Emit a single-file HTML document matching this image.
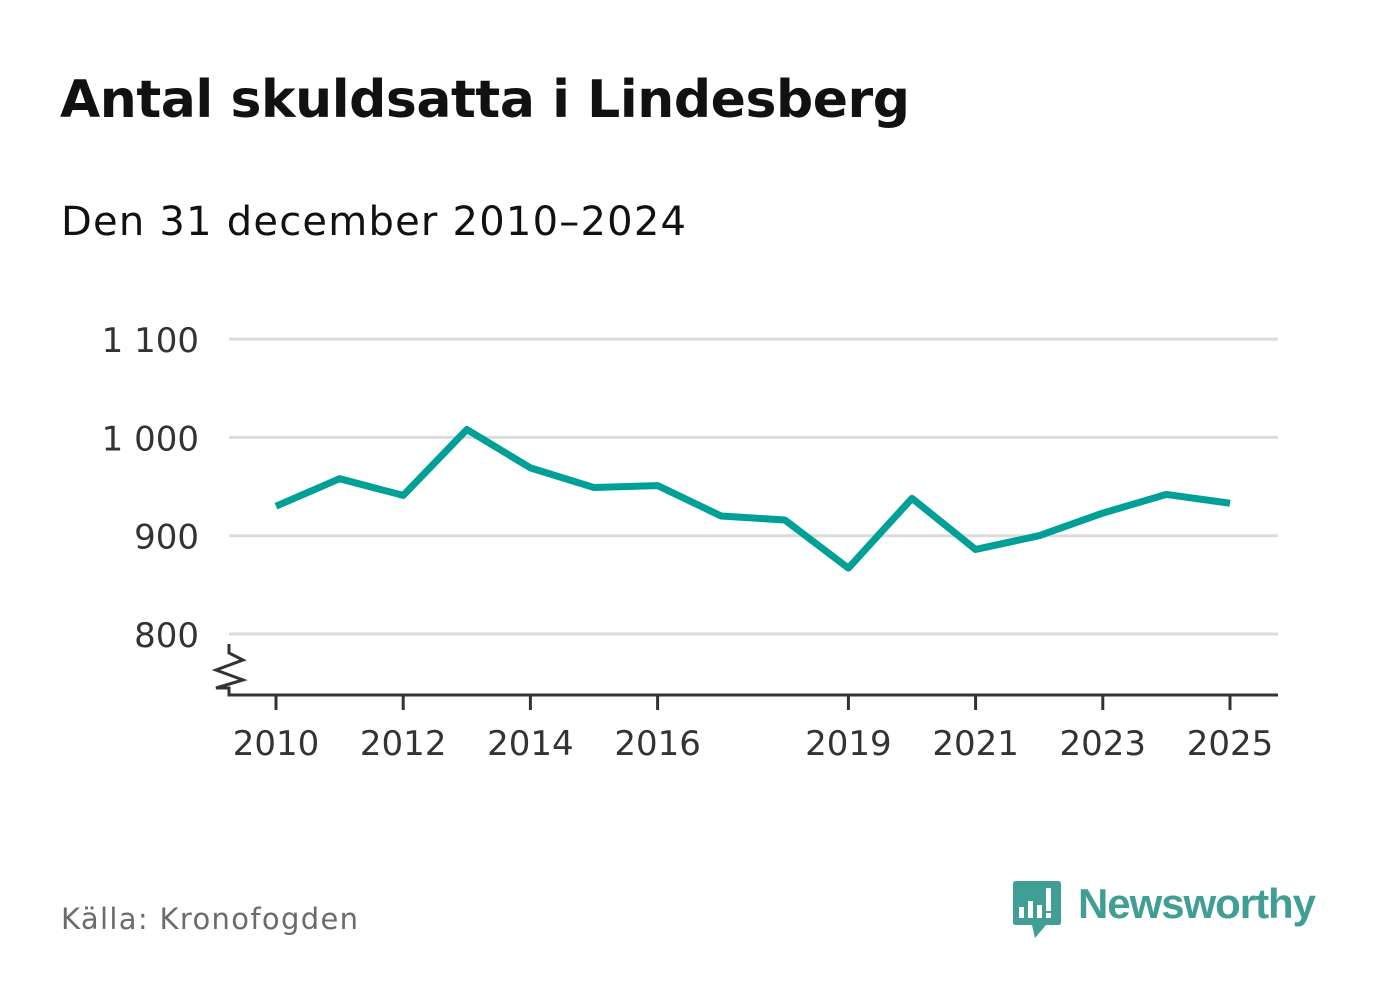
<!DOCTYPE html>
<html><head><meta charset="utf-8"><style>
body{margin:0;background:#fff;width:1382px;height:999px;overflow:hidden;font-family:"DejaVu Sans","Liberation Sans",sans-serif}
</style></head><body>
<svg width="1382" height="999" xmlns="http://www.w3.org/2000/svg">
<text x="60" y="117" font-size="52" font-weight="bold" fill="#111" font-family="DejaVu Sans, Liberation Sans, sans-serif" textLength="850">Antal skuldsatta i Lindesberg</text>
<text x="61" y="235" font-size="40" fill="#111" textLength="625">Den 31 december 2010–2024</text>
<g id="grid"></g>
<g id="yl"></g>
<path d="M229 644 V653 L243 660 L216 670 L243 680 L216 688 L229 688 V695 H1278" fill="none" stroke="#333" stroke-width="3"/>
<g id="xl"></g>
<polyline id="line" fill="none" stroke="#00a096" stroke-width="7" stroke-linejoin="round"/>
<text x="61" y="929" font-size="29" fill="#6b6b6b" textLength="297">Källa: Kronofogden</text>
<g>
<path d="M1016 881 H1058 Q1061 881 1061 884 V922 Q1061 925 1058 925 H1046 L1035 938 L1032 925 H1016 Q1013 925 1013 922 V884 Q1013 881 1016 881Z" fill="#409e95"/>
<rect x="1019" y="907" width="5" height="11" fill="#fff"/><rect x="1028" y="901" width="5" height="17" fill="#fff"/><rect x="1037" y="905" width="5" height="13" fill="#fff"/><rect x="1046" y="888" width="5" height="23" fill="#fff"/><rect x="1046" y="913" width="5" height="5" fill="#fff"/>
<text x="1078" y="918" font-size="42" font-weight="bold" fill="#409e95" font-family="Liberation Sans, sans-serif" textLength="238">Newsworthy</text>
</g>
</svg>
<script>
const years=[2010,2011,2012,2013,2014,2015,2016,2017,2018,2019,2020,2021,2022,2023,2024,2025];
const values=[930,958,941,1008,969,949,951,920,916,867,938,886,900,923,942,933];
const yTicks=[800,900,1000,1100];
const yTickLabels=["800","900","1 000","1 100"];
const xTicks=[2010,2012,2014,2016,2019,2021,2023,2025];
const X=y=>276+(y-2010)*63.6;
const Y=v=>634-(v-800)*0.983;
const ns="http://www.w3.org/2000/svg";
const g=document.getElementById('grid'),yl=document.getElementById('yl'),xl=document.getElementById('xl');
yTicks.forEach((t,i)=>{
 const l=document.createElementNS(ns,'line');
 l.setAttribute('x1',229);l.setAttribute('x2',1278);l.setAttribute('y1',Y(t));l.setAttribute('y2',Y(t));
 l.setAttribute('stroke','#dcdcdc');l.setAttribute('stroke-width',3);
 
 
 g.appendChild(l);
 const tx=document.createElementNS(ns,'text');
 tx.setAttribute('x',199);tx.setAttribute('y',Y(t)+13);tx.setAttribute('text-anchor','end');
 tx.setAttribute('font-size',34);tx.setAttribute('fill','#333');tx.textContent=yTickLabels[i];
 
 
 yl.appendChild(tx);
});
xTicks.forEach(t=>{
 const l=document.createElementNS(ns,'line');
 l.setAttribute('x1',X(t));l.setAttribute('x2',X(t));l.setAttribute('y1',695);l.setAttribute('y2',710);
 l.setAttribute('stroke','#333');l.setAttribute('stroke-width',3);
 
 
 xl.appendChild(l);
 const tx=document.createElementNS(ns,'text');
 tx.setAttribute('x',X(t));tx.setAttribute('y',755);tx.setAttribute('text-anchor','middle');
 tx.setAttribute('font-size',34);tx.setAttribute('fill','#333');tx.textContent=t;
 
 
 xl.appendChild(tx);
});
document.getElementById('line').setAttribute('points',years.map((y,i)=>X(y)+','+Y(values[i])).join(' '));
</script>
</body></html>
